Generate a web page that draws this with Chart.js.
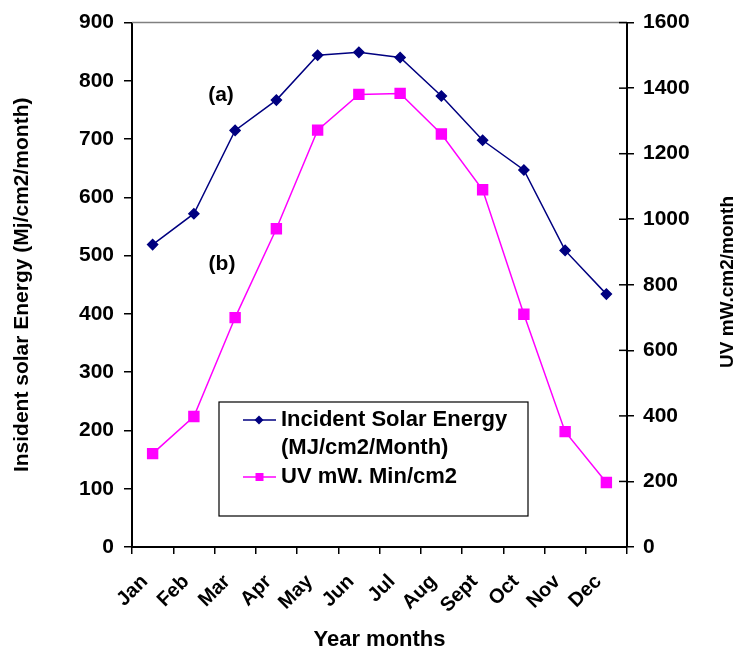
<!DOCTYPE html>
<html>
<head>
<meta charset="utf-8">
<title>Incident solar energy and UV by month</title>
<script src="https://cdn.jsdelivr.net/npm/chart.js@4.4.0/dist/chart.umd.min.js"></script>
<style>
  body { margin: 0; background: #fff; }
  #wrap { position: relative; width: 741px; height: 656px; }
</style>
</head>
<body>
<div id="wrap"><canvas id="solarChart"></canvas></div>
<script>
const FONT = '"Liberation Sans", Arial, Helvetica, sans-serif';

// data
const months = ['Jan', 'Feb', 'Mar', 'Apr', 'May', 'Jun', 'Jul', 'Aug', 'Sept', 'Oct', 'Nov', 'Dec'];
const solarEnergy = [519, 572, 715, 767, 844, 849, 840, 774, 698, 647, 509, 434];
const uvValues = [285, 398, 700, 971, 1272, 1381, 1384, 1260, 1090, 710, 352, 197];
const leftTicks = { min: 0, max: 900, step: 100 };
const rightTicks = { min: 0, max: 1600, step: 200 };
const solarLabel = ['Incident Solar Energy', '(MJ/cm2/Month)'];
const uvLabel = ['UV mW. Min/cm2'];
const notes = [{ text: '(a)', x: 221, y: 95 }, { text: '(b)', x: 222, y: 264 }];

// extra drawing: plot top line, inside ticks on right axis, right title, notes, legend box
const extras = {
    id: 'extras',
    afterDraw(chart) {
        const ctx = chart.ctx;
        const area = chart.chartArea;
        const y1 = chart.scales.y1;
        ctx.save();

        ctx.strokeStyle = '#808080';
        ctx.lineWidth = 1.5;
        ctx.beginPath();
        ctx.moveTo(area.left, area.top);
        ctx.lineTo(area.right, area.top);
        ctx.stroke();

        ctx.strokeStyle = '#000';
        ctx.lineWidth = 1.5;
        y1.ticks.forEach(t => {
            const py = y1.getPixelForValue(t.value);
            ctx.beginPath();
            ctx.moveTo(area.right - 8, py);
            ctx.lineTo(area.right, py);
            ctx.stroke();
        });

        ctx.fillStyle = '#000';
        ctx.font = 'bold 19px ' + FONT;
        ctx.textAlign = 'center';
        ctx.textBaseline = 'middle';
        ctx.save();
        ctx.translate(728, 282);
        ctx.rotate(-Math.PI / 2);
        ctx.fillText('UV mW.cm2/month', 0, 0);
        ctx.restore();

        ctx.font = 'bold 21px ' + FONT;
        notes.forEach(n => ctx.fillText(n.text, n.x, n.y));

        // legend
        const box = { x: 219, y: 402, w: 309, h: 114 };
        ctx.fillStyle = '#fff';
        ctx.fillRect(box.x, box.y, box.w, box.h);
        ctx.strokeStyle = '#000';
        ctx.lineWidth = 1.2;
        ctx.strokeRect(box.x, box.y, box.w, box.h);

        const items = [
            { ds: chart.data.datasets[0], lines: solarLabel, y: 420 },
            { ds: chart.data.datasets[1], lines: uvLabel, y: 477 }
        ];
        ctx.textAlign = 'left';
        items.forEach(it => {
            ctx.strokeStyle = it.ds.borderColor;
            ctx.lineWidth = 1.5;
            ctx.beginPath();
            ctx.moveTo(243, it.y);
            ctx.lineTo(276, it.y);
            ctx.stroke();
            ctx.fillStyle = it.ds.pointBackgroundColor;
            ctx.beginPath();
            if (it.ds.pointStyle === 'rectRot') {
                ctx.moveTo(259, it.y - 4.5);
                ctx.lineTo(263.5, it.y);
                ctx.lineTo(259, it.y + 4.5);
                ctx.lineTo(254.5, it.y);
                ctx.closePath();
            } else {
                ctx.rect(255.5, it.y - 4, 8, 8);
            }
            ctx.fill();
            ctx.fillStyle = '#000';
            ctx.font = 'bold 22px ' + FONT;
            it.lines.forEach((line, i) => ctx.fillText(line, 281, it.y + i * 28));
        });

        ctx.restore();
    }
};

const ctx = document.getElementById('solarChart').getContext('2d');
const solarChart = new Chart(ctx, {
    type: 'line',
    data: {
        labels: months,
        datasets: [{
            label: solarLabel.join(' '),
            data: solarEnergy,
            yAxisID: 'y',
            borderColor: '#000080',
            backgroundColor: '#000080',
            pointBackgroundColor: '#000080',
            pointBorderColor: '#000080',
            pointStyle: 'rectRot',
            pointRadius: 5,
            borderWidth: 1.5,
            tension: 0,
            fill: false
        }, {
            label: uvLabel.join(' '),
            data: uvValues,
            yAxisID: 'y1',
            borderColor: '#ff00ff',
            backgroundColor: '#ff00ff',
            pointBackgroundColor: '#ff00ff',
            pointBorderColor: '#ff00ff',
            pointStyle: 'rect',
            pointRadius: 7,
            borderWidth: 1.5,
            tension: 0,
            fill: false
        }]
    },
    options: {
        responsive: true,
        maintainAspectRatio: false,
        animation: false,
        layout: { padding: { top: 20, left: 0, right: 0, bottom: 0 } },
        plugins: {
            legend: { display: false },
            tooltip: { enabled: false }
        },
        scales: {
            x: {
                offset: true,
                grid: { offset: true, drawOnChartArea: false, tickLength: 7, color: '#000', lineWidth: 1.5 },
                border: { color: '#000', width: 2 },
                ticks: {
                    color: '#000',
                    font: { family: FONT, size: 20, weight: 'bold' },
                    autoSkip: false,
                    maxRotation: 45,
                    minRotation: 45,
                    padding: 16,
                    labelOffset: -8
                },
                title: {
                    display: true,
                    text: 'Year months',
                    color: '#000',
                    font: { family: FONT, size: 22, weight: 'bold' },
                    padding: { top: 0, bottom: 3 }
                },
                afterFit: s => { s.height = 109; }
            },
            y: {
                position: 'left',
                min: leftTicks.min,
                max: leftTicks.max,
                grid: { drawOnChartArea: false, tickLength: 8, color: '#000', lineWidth: 1.5 },
                border: { color: '#000', width: 2 },
                ticks: {
                    stepSize: leftTicks.step,
                    color: '#000',
                    font: { family: FONT, size: 21, weight: 'bold' },
                    padding: 10,
                    callback: v => String(v)
                },
                title: {
                    display: true,
                    text: 'Insident solar Energy (Mj/cm2/month)',
                    color: '#000',
                    font: { family: FONT, size: 21, weight: 'bold' },
                    padding: { top: 10, bottom: 0 }
                },
                afterFit: s => { s.width = 132; }
            },
            y1: {
                position: 'right',
                min: rightTicks.min,
                max: rightTicks.max,
                grid: { drawOnChartArea: false, tickLength: 7, color: '#000', lineWidth: 1.5 },
                border: { color: '#000', width: 2 },
                ticks: {
                    stepSize: rightTicks.step,
                    color: '#000',
                    font: { family: FONT, size: 21, weight: 'bold' },
                    padding: 9,
                    callback: v => String(v)
                },
                afterFit: s => { s.width = 114; }
            }
        }
    },
    plugins: [extras]
});
</script>
</body>
</html>
